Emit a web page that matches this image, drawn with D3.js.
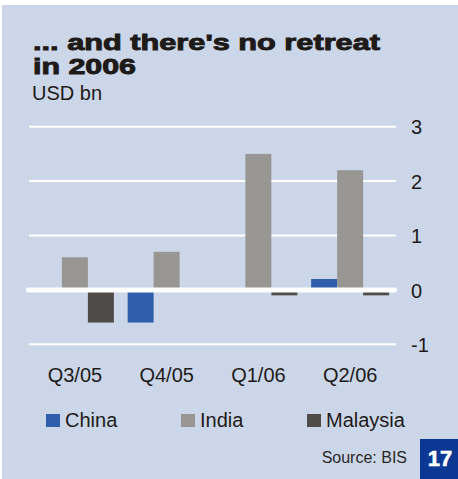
<!DOCTYPE html>
<html>
<head>
<meta charset="utf-8">
<script src="https://cdn.jsdelivr.net/npm/d3@7"></script>
<style>
  html, body { margin: 0; padding: 0; background: #ffffff; }
  svg { display: block; font-family: "Liberation Sans", Arial, Helvetica, sans-serif; }
</style>
</head>
<body>
<svg id="chart" width="458" height="479"></svg>
<script>
// Quarterly flows, USD bn
const quarters = ["Q3/05", "Q4/05", "Q1/06", "Q2/06"];
const seriesNames = ["China", "India", "Malaysia"];
const china    = [0, -0.6, 0, 0.2];
const india    = [0.6, 0.7, 2.5, 2.2];
const malaysia = [-0.6, 0, -0.1, -0.1];
const yTicks = [-1, 0, 1, 2, 3];
const colors = ["#2f5fac", "#979693", "#4f4b48"];

const seriesValues = [china, india, malaysia];

const svg = d3.select("#chart");

// panel background
svg.append("rect")
  .attr("x", 2).attr("y", 5).attr("width", 456).attr("height", 474)
  .attr("fill", "#cbd7e8");

// title block
const title = svg.append("g").attr("fill", "#1e1a18");
title.append("text")
  .attr("x", 33).attr("y", 50)
  .attr("font-size", 22).attr("font-weight", 900)
  .attr("stroke", "#1e1a18").attr("stroke-width", 0.9)
  .attr("textLength", 347).attr("lengthAdjust", "spacingAndGlyphs")
  .text("... and there's no retreat");
title.append("text")
  .attr("x", 33).attr("y", 74)
  .attr("font-size", 22).attr("font-weight", 900)
  .attr("stroke", "#1e1a18").attr("stroke-width", 0.9)
  .attr("textLength", 103).attr("lengthAdjust", "spacingAndGlyphs")
  .text("in 2006");
title.append("text")
  .attr("x", 32).attr("y", 100)
  .attr("font-size", 20)
  .text("USD bn");

// scales
const x0 = d3.scaleBand().domain(quarters).range([29, 396])
  .paddingInner(0.15).paddingOuter(0.075);
const x1 = d3.scaleBand().domain(seriesNames).range([0, x0.bandwidth()]);
const y = d3.scaleLinear().domain([-1, 3]).range([344.3, 126.7]);

// gridlines (non-zero)
svg.append("g").selectAll("line")
  .data(yTicks.filter(t => t !== 0))
  .join("line")
  .attr("x1", 29).attr("x2", 396)
  .attr("y1", d => y(d)).attr("y2", d => y(d))
  .attr("stroke", "#ffffff").attr("stroke-width", 2);

// bars, grouped by quarter
const rows = quarters.map((q, i) => ({
  q, vals: seriesNames.map((s, j) => ({ s, v: seriesValues[j][i], c: colors[j] }))
}));
svg.append("g").selectAll("g")
  .data(rows)
  .join("g")
  .attr("transform", d => `translate(${x0(d.q)},0)`)
  .selectAll("rect")
  .data(d => d.vals.filter(e => e.v !== 0))
  .join("rect")
  .attr("x", d => x1(d.s))
  .attr("width", x1.bandwidth())
  .attr("y", d => y(Math.max(0, d.v)))
  .attr("height", d => Math.abs(y(d.v) - y(0)))
  .attr("fill", d => d.c);

// zero line drawn over the bar bases
svg.append("line")
  .attr("x1", 28.5).attr("x2", 394.5)
  .attr("y1", y(0)).attr("y2", y(0))
  .attr("stroke", "#ffffff").attr("stroke-width", 5)
  .attr("stroke-linecap", "round");

// y axis labels on the right
const yAxis = d3.axisRight(y).tickValues(yTicks).tickSize(0).tickPadding(0)
  .tickFormat(d => String(d));
const gy = svg.append("g").attr("transform", "translate(411,0)").call(yAxis);
gy.select(".domain").remove();
gy.selectAll("text")
  .attr("font-size", 20).attr("fill", "#1e1a18")
  .attr("font-family", "'Liberation Sans', Arial, sans-serif")
  .attr("dy", "0.36em");

// x axis labels
const xAxis = d3.axisBottom(x0).tickSize(0).tickPadding(0);
const gx = svg.append("g").attr("transform", "translate(0,382)").call(xAxis);
gx.select(".domain").remove();
gx.selectAll("text")
  .attr("font-size", 20).attr("fill", "#1e1a18")
  .attr("font-family", "'Liberation Sans', Arial, sans-serif")
  .attr("dy", 0).attr("y", 0);

// legend
const legendX = [46, 181, 307];
const legend = svg.append("g").selectAll("g")
  .data(seriesNames)
  .join("g")
  .attr("transform", (d, i) => `translate(${legendX[i]},414)`);
legend.append("rect")
  .attr("width", 14).attr("height", 13)
  .attr("fill", (d, i) => colors[i]);
legend.append("text")
  .attr("x", 19).attr("y", 12.5)
  .attr("font-size", 20).attr("fill", "#1e1a18")
  .text(d => d);

// source note and chart number
svg.append("text")
  .attr("x", 407).attr("y", 463)
  .attr("text-anchor", "end")
  .attr("font-size", 16).attr("fill", "#2a2624")
  .text("Source: BIS");
svg.append("rect")
  .attr("x", 420).attr("y", 439).attr("width", 38).attr("height", 40)
  .attr("fill", "#0a3893");
svg.append("text")
  .attr("x", 440).attr("y", 466)
  .attr("text-anchor", "middle")
  .attr("font-size", 22).attr("font-weight", 700).attr("fill", "#ffffff")
  .attr("stroke", "#ffffff").attr("stroke-width", 0.6)
  .text("17");
</script>
</body>
</html>
